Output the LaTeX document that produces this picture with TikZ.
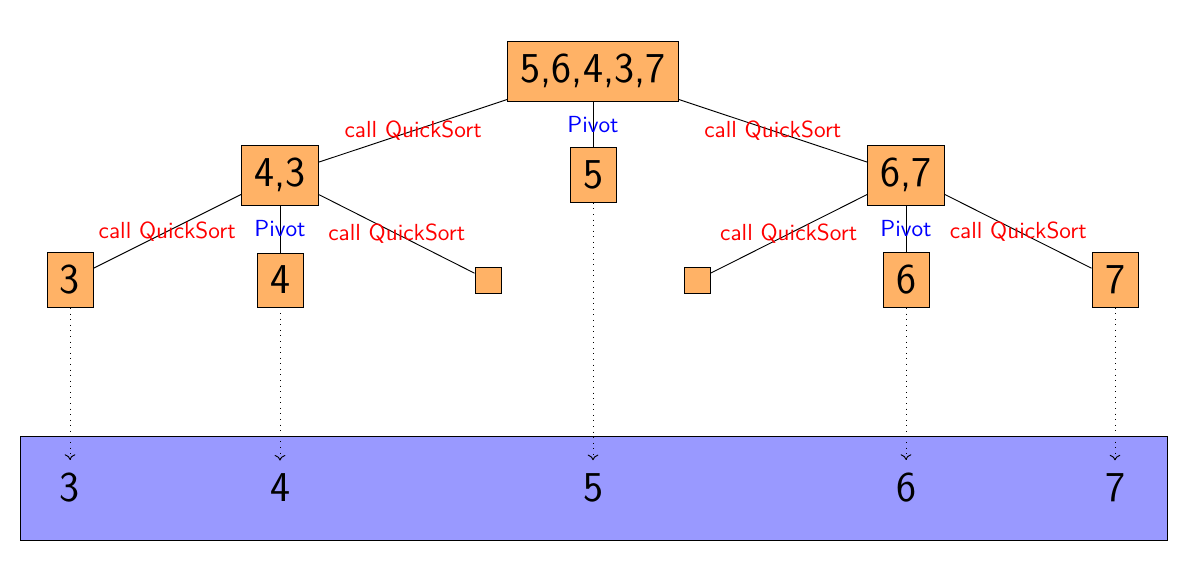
\documentclass[tikz,border=0pt]{standalone}
\usetikzlibrary{arrows.meta}
\begin{document}
\begin{tikzpicture}[x=0.43pt,y=-0.43pt,font=\sffamily,
  box/.style={draw, fill=orange!60, inner sep=5.6pt, font=\sffamily\fontsize{18.3}{22}\selectfont},
  num/.style={inner sep=5.6pt, font=\sffamily\fontsize{18.3}{22}\selectfont},
  qs/.style={midway, text=red, inner sep=0pt, font=\sffamily},
  pv/.style={midway, text=blue, inner sep=0pt, font=\sffamily},
  drop/.style={dotted, -{To[length=2.4pt,width=4.6pt]}}]
\useasboundingbox (0,0) rectangle (1190,574);
% bottom strip
\draw[fill=blue!40] (20,436) rectangle (1167,540);
% tree nodes
\node[box] (r) at (593,71) {5,6,4,3,7};
\node[box] (a) at (280,175) {4,3};
\node[box] (p) at (593,175) {5};
\node[box] (b) at (906,175) {6,7};
\node[box] (a1) at (70,280) {3};
\node[box] (a2) at (280,280) {4};
\node[box] (a3) at (488,280) {};
\node[box] (b1) at (697,280) {};
\node[box] (b2) at (906,280) {6};
\node[box] (b3) at (1115,280) {7};
% sorted result
\node[num] (s3) at (70,488) {3};
\node[num] (s4) at (280,488) {4};
\node[num] (s5) at (593,488) {5};
\node[num] (s6) at (906,488) {6};
\node[num] (s7) at (1115,488) {7};
% edges
\draw (r) -- (a) node[qs] {call QuickSort};
\draw (r) -- (p) node[pv] {Pivot};
\draw (r) -- (b) node[qs] {call QuickSort};
\draw (a) -- (a1) node[qs] {call QuickSort};
\draw (a) -- (a2) node[pv] {Pivot};
\draw (a) -- (a3) node[qs] {call QuickSort};
\draw (b) -- (b1) node[qs] {call QuickSort};
\draw (b) -- (b2) node[pv] {Pivot};
\draw (b) -- (b3) node[qs] {call QuickSort};
% drops
\draw[drop] (a1) -- (s3);
\draw[drop] (a2) -- (s4);
\draw[drop] (p) -- (s5);
\draw[drop] (b2) -- (s6);
\draw[drop] (b3) -- (s7);
\end{tikzpicture}
\end{document}
